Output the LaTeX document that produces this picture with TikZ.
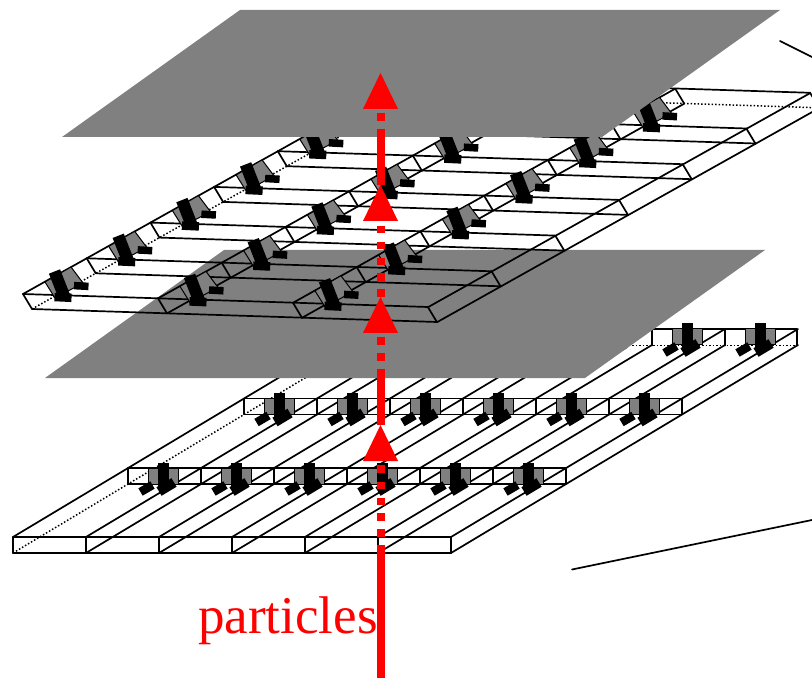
\documentclass[tikz,border=0pt]{standalone}
\usepackage{fontspec}
\setmainfont{Liberation Serif}
\definecolor{planegray}{HTML}{808080}
\tikzset{
  edge/.style={black,line width=1.7pt,line cap=round,line join=round},
  hidden/.style={black,line width=1.5pt,dotted},
  plane/.style={fill=planegray,draw=none},
  chip/.style={fill=planegray,draw=black,line width=1pt},
  beam/.style={red,line width=8pt},
  tipmark/.style={fill=red,draw=none}
}
\newcommand{\lowersensor}[2]{%
  \begin{scope}[shift={(#1,#2)}]
    \filldraw[chip] (20,0) rectangle (50,16);
    \fill[black] (30,-5.5) rectangle (41,19);
    \draw[black,line width=10pt] (31,23.5) -- (46,14.5);
    \draw[black,line width=8.5pt] (12.5,24) -- (24.5,17);
  \end{scope}}
\newcommand{\uppersensor}[2]{%
  \begin{scope}[shift={(#1,#2)}]
    \filldraw[chip] (22,-12) -- (48,-27) -- (60,-11) -- (32,4) -- cycle;
    \draw[black,line width=12pt] (31.5,-22.5) -- (41.5,3);
    \draw[black,line width=8.5pt] (31.5,3) -- (48.5,3.8);
    \draw[black,line width=7.5pt] (51,-8.4) -- (65.5,-7.6);
  \end{scope}}
\begin{document}
\begin{tikzpicture}[x=1pt,y=-1pt]
\useasboundingbox (0,0) rectangle (812,679);
\clip (0,0) rectangle (812,679);
% lower detector
\foreach \k in {0,...,6}{
  \pgfmathsetmacro{\xa}{13+73*\k}
  \draw[edge] (\xa,537) -- ++(347,-208);
  \ifnum\k=0\relax
    \draw[hidden] (\xa,553) -- ++(347,-208);
  \else
    \draw[edge] (\xa,553) -- ++(347,-208);
  \fi
  \draw[edge] (\xa,537) -- ++(0,16);
}
\draw[edge] (13,537) -- (451,537);
\draw[edge] (13,553) -- (451,553);
\foreach \x/\y in {128/468,244/398.5}{
  \draw[edge] (\x,\y) rectangle ++(438,16);
  \foreach \k in {1,...,5}{
    \pgfmathsetmacro{\xb}{\x+73*\k}
    \draw[edge] (\xb,\y) -- ++(0,16);
  }
}
\draw[edge] (360,329) -- (797,329) -- (797,345.5);
\draw[hidden] (373,345.5) -- (797,345.5);
\foreach \k in {0,...,5}{
  \pgfmathsetmacro{\xb}{360+73*\k}
  \draw[edge] (\xb,329) -- ++(0,16.5);
}
\foreach \x/\y in {128/468,244/398.5,360/329}{
  \foreach \k in {0,...,5}{
    \pgfmathsetmacro{\xb}{\x+73*\k}
    \lowersensor{\xb}{\y}
  }
}
% middle plane
\fill[plane] (224,250) -- (765,250) -- (585,378) -- (45,378) -- cycle;
% upper detector
\foreach \k in {0,...,6}{
  \pgfmathsetmacro{\xa}{23+63.7*\k}
  \pgfmathsetmacro{\ya}{294-35.7*\k}
  \draw[edge] (\xa,\ya) -- ++(405,13);
  \ifnum\k=6\relax
    \draw[hidden] ({\xa+9},{\ya+15}) -- ++(405,13);
  \else
    \draw[edge] ({\xa+9},{\ya+15}) -- ++(405,13);
  \fi
}
\foreach \r in {0,...,3}{
  \pgfmathsetmacro{\xa}{23+135*\r}
  \pgfmathsetmacro{\ya}{294+4.4*\r}
  \draw[edge] (\xa,\ya) -- ++(382,-214);
  \ifnum\r=0\relax
    \draw[hidden] ({\xa+9},{\ya+15}) -- ++(382,-214);
  \else
    \draw[edge] ({\xa+9},{\ya+15}) -- ++(382,-214);
  \fi
  \foreach \k in {0,...,6}{
    \pgfmathsetmacro{\xb}{\xa+63.7*\k}
    \pgfmathsetmacro{\yb}{\ya-35.7*\k}
    \draw[edge] (\xb,\yb) -- ++(9,15);
  }
}
\foreach \r in {0,1,2}{
  \foreach \k in {0,...,5}{
    \pgfmathsetmacro{\xb}{23+135*\r+63.7*\k}
    \pgfmathsetmacro{\yb}{294+4.4*\r-35.7*\k}
    \uppersensor{\xb}{\yb}
  }
}
% top plane
\fill[plane] (240,10) -- (780,10) -- (602,137) -- (62,137) -- cycle;
% side strokes
\coordinate (ua) at (780,41);
\coordinate (ub) at (812,57);
\coordinate (la) at (572,569.5);
\coordinate (lb) at (812,520);
\draw[edge] (ua) -- (ub);
\draw[edge] (la) -- (lb);
% particle beam
\foreach \a/\b in {545/678,529/537,513/521,498/505,482/489,465/473,
                   369/425,353/361,337/345,
                   289/297,273/281,258/265,242/249,226/233,
                   129/185,113/121}{
  \coordinate (ba) at (381,\a);
  \coordinate (bb) at (381,\b);
  \draw[beam] (ba) -- (bb);
}
\foreach \b in {109,221,333,461}{
  \fill[tipmark] (363,\b) -- (398,\b) -- (380.5,{\b-36}) -- cycle;
}
\node[anchor=base west,inner sep=0pt,red,font=\fontsize{53}{60}\selectfont] (label) at (198,633) {particles};
\end{tikzpicture}
\end{document}
